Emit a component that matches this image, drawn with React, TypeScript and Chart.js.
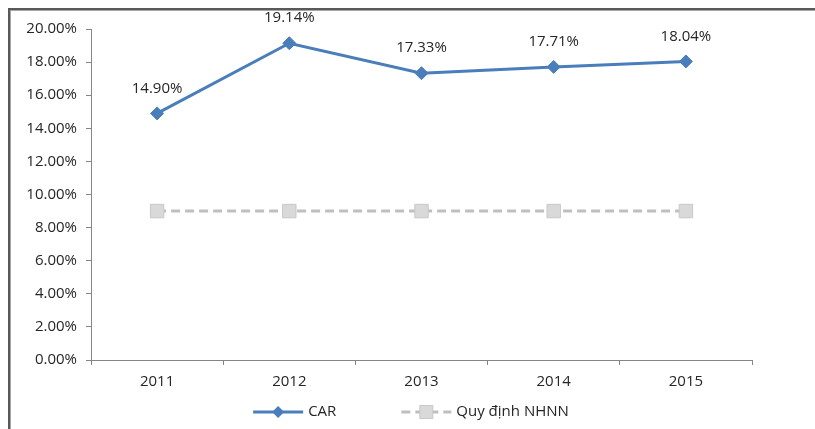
import React, { useEffect, useRef } from "react";
import { Chart, registerables } from "chart.js";

Chart.register(...registerables);

const years = ["2011", "2012", "2013", "2014", "2015"];
const carValues = [14.9, 19.14, 17.33, 17.71, 18.04];
const nhnnValues = [9, 9, 9, 9, 9];
const seriesNames = ["CAR", "Quy định NHNN"];
const yMin = 0;
const yMax = 20;
const yStep = 2;

const FONT = "'Open Sans', 'DejaVu Sans', sans-serif";
const TEXT = "#262626";
const AXIS = "#868686";
const BLUE = "#4A7EBB";
const GRAY_LINE = "#BFBFBF";
const GRAY_FILL = "#D9D9D9";

const pct = (v: number) => v.toFixed(2) + "%";

const framePlugin = {
  id: "frame",
  beforeDraw(chart: any) {
    const ctx = chart.ctx;
    ctx.save();
    ctx.fillStyle = "#ffffff";
    ctx.fillRect(0, 0, chart.width, chart.height);
    ctx.fillStyle = "#595959";
    ctx.fillRect(8, 8, chart.width - 8, 2);
    ctx.fillRect(8, 8, 2, chart.height - 8);
    ctx.fillStyle = "#A6A6A6";
    ctx.fillRect(10, 10, chart.width - 10, 1);
    ctx.fillRect(10, 10, 1, chart.height - 10);
    ctx.restore();
  },
};

const dataLabelPlugin = {
  id: "dataLabels",
  afterDatasetsDraw(chart: any) {
    const ctx = chart.ctx;
    const meta = chart.getDatasetMeta(0);
    ctx.save();
    ctx.font = `15px ${FONT}`;
    ctx.fillStyle = TEXT;
    ctx.textAlign = "center";
    ctx.textBaseline = "middle";
    meta.data.forEach((pt: any, i: number) => {
      ctx.fillText(pct(carValues[i]), pt.x, pt.y - 25);
    });
    ctx.restore();
  },
};

const legendPlugin = {
  id: "customLegend",
  afterDraw(chart: any) {
    const ctx = chart.ctx;
    ctx.save();
    ctx.font = `15px ${FONT}`;
    const lineW = 50;
    const gapText = 5;
    const gapItems = 65;
    const w1 = ctx.measureText(seriesNames[0]).width;
    const w2 = ctx.measureText(seriesNames[1]).width;
    const total = lineW + gapText + w1 + gapItems + lineW + gapText + w2;
    const cx = 411;
    const y = 412;
    let x = cx - total / 2;

    // CAR
    ctx.strokeStyle = BLUE;
    ctx.lineWidth = 3;
    ctx.beginPath();
    ctx.moveTo(x, y);
    ctx.lineTo(x + lineW, y);
    ctx.stroke();
    const r = 6;
    ctx.fillStyle = BLUE;
    ctx.beginPath();
    ctx.moveTo(x + lineW / 2 - r, y);
    ctx.lineTo(x + lineW / 2, y - r);
    ctx.lineTo(x + lineW / 2 + r, y);
    ctx.lineTo(x + lineW / 2, y + r);
    ctx.closePath();
    ctx.fill();
    x += lineW + gapText;
    ctx.fillStyle = TEXT;
    ctx.textAlign = "left";
    ctx.textBaseline = "middle";
    ctx.fillText(seriesNames[0], x, y);
    x += w1 + gapItems;

    // NHNN
    ctx.strokeStyle = GRAY_LINE;
    ctx.lineWidth = 3;
    ctx.setLineDash([9, 5]);
    ctx.beginPath();
    ctx.moveTo(x, y);
    ctx.lineTo(x + lineW, y);
    ctx.stroke();
    ctx.setLineDash([]);
    const s = 6.5;
    ctx.fillStyle = GRAY_FILL;
    ctx.fillRect(x + lineW / 2 - s, y - s, 2 * s, 2 * s);
    ctx.strokeStyle = "#C8C8C8";
    ctx.lineWidth = 1;
    ctx.strokeRect(x + lineW / 2 - s, y - s, 2 * s, 2 * s);
    x += lineW + gapText;
    ctx.fillStyle = TEXT;
    ctx.fillText(seriesNames[1], x, y);
    ctx.restore();
  },
};

export default function App() {
  const ref = useRef<HTMLCanvasElement>(null);
  useEffect(() => {
    if (!ref.current) return;
    const chart = new Chart(ref.current, {
      type: "line",
      data: {
        labels: years,
        datasets: [
          {
            label: seriesNames[0],
            data: carValues,
            borderColor: BLUE,
            backgroundColor: BLUE,
            borderWidth: 3,
            pointStyle: "rectRot",
            pointRadius: 6.5,
            pointBorderWidth: 1,
            pointBackgroundColor: BLUE,
            pointBorderColor: BLUE,
            tension: 0,
          },
          {
            label: seriesNames[1],
            data: nhnnValues,
            borderColor: GRAY_LINE,
            backgroundColor: GRAY_FILL,
            borderWidth: 3,
            borderDash: [9, 5],
            pointStyle: "rect",
            pointRadius: 9.5,
            pointBorderWidth: 1,
            pointBackgroundColor: GRAY_FILL,
            pointBorderColor: "#C8C8C8",
            tension: 0,
          },
        ],
      },
      options: {
        responsive: false,
        animation: false,
        layout: { padding: { top: 29, right: 63, left: 0, bottom: 0 } },
        plugins: {
          legend: { display: false },
          tooltip: { enabled: false },
        },
        scales: {
          x: {
            offset: true,
            grid: {
              offset: true,
              drawOnChartArea: false,
              drawTicks: true,
              tickLength: 5,
              color: AXIS,
            },
            border: { color: AXIS, width: 1 },
            ticks: {
              color: TEXT,
              font: { family: FONT, size: 15 },
              padding: 8,
              maxRotation: 0,
            },
            afterFit(scale: any) {
              scale.height = 69;
            },
          },
          y: {
            min: yMin,
            max: yMax,
            grid: {
              drawOnChartArea: false,
              drawTicks: true,
              tickLength: 5,
              color: AXIS,
            },
            border: { color: AXIS, width: 1 },
            ticks: {
              stepSize: yStep,
              color: TEXT,
              font: { family: FONT, size: 15 },
              padding: 9,
              callback: (v: any) => pct(Number(v)),
            },
            afterFit(scale: any) {
              scale.width = 91;
            },
          },
        },
      },
      plugins: [framePlugin, dataLabelPlugin, legendPlugin],
    });
    return () => chart.destroy();
  }, []);
  return (
    <div style={{ position: "absolute", left: 0, top: 0, width: 815, height: 429 }}>
      <canvas ref={ref} width={815} height={429} style={{ width: 815, height: 429, display: "block" }} />
    </div>
  );
}
